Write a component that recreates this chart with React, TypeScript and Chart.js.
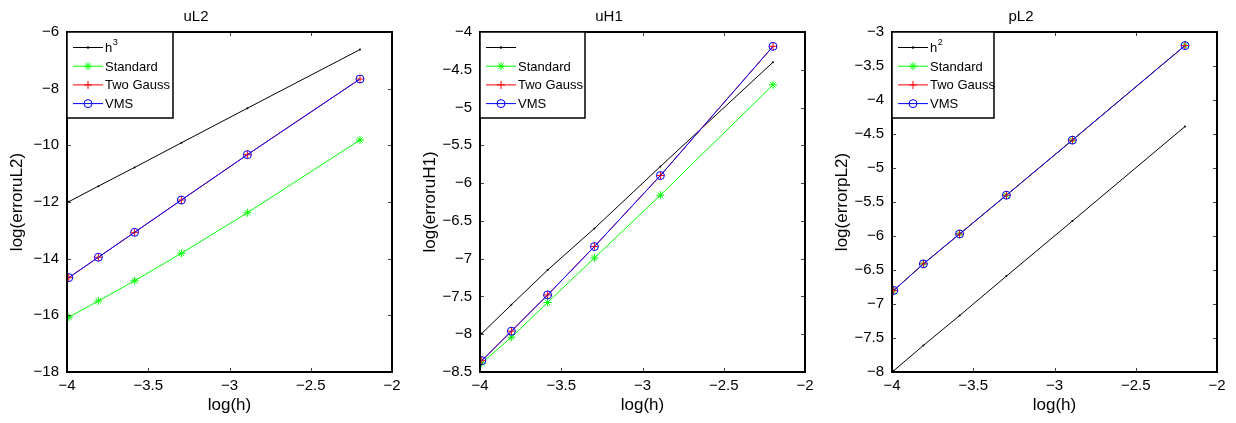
import React, { useEffect, useRef } from "react";
import { Chart, registerables } from "chart.js";
Chart.register(...registerables);

// ---- data ----
const logH = [-3.989, -3.807, -3.584, -3.296, -2.890, -2.197];

const uL2Ref = [-11.99, -11.44, -10.78, -9.91, -8.69, -6.62];
const uL2Standard = [-16.07, -15.49, -14.78, -13.81, -12.38, -9.81];
const uL2TwoGauss = [-14.67, -13.95, -13.07, -11.93, -10.33, -7.66];
const uL2VMS = [-14.67, -13.95, -13.07, -11.93, -10.33, -7.66];

const uH1Ref = [-7.99, -7.61, -7.15, -6.60, -5.78, -4.40];
const uH1Standard = [-8.38, -8.04, -7.58, -6.99, -6.16, -4.70];
const uH1TwoGauss = [-8.35, -7.96, -7.48, -6.84, -5.90, -4.19];
const uH1VMS = [-8.35, -7.96, -7.48, -6.84, -5.90, -4.19];

const pL2Ref = [-7.98, -7.61, -7.17, -6.59, -5.78, -4.39];
const pL2Standard = [-6.80, -6.41, -5.97, -5.40, -4.59, -3.20];
const pL2TwoGauss = [-6.80, -6.41, -5.97, -5.40, -4.59, -3.20];
const pL2VMS = [-6.80, -6.41, -5.97, -5.40, -4.59, -3.20];

const seriesLabels = ["Standard", "Two Gauss", "VMS"];
const xTicks = { min: -4, max: -2, step: 0.5 };

const FONT = "'Liberation Sans', Arial, Helvetica, sans-serif";

type PanelDef = {
  title: string;
  yTitle: string;
  refLabel: string;
  refSup: string;
  ref: number[];
  standard: number[];
  twoGauss: number[];
  vms: number[];
  yMin: number;
  yMax: number;
  yStep: number;
  left: number;
  legendW: number;
};

const panels: PanelDef[] = [
  { title: "uL2", yTitle: "log(erroruL2)", refLabel: "h", refSup: "3", ref: uL2Ref, standard: uL2Standard, twoGauss: uL2TwoGauss, vms: uL2VMS, yMin: -18, yMax: -6, yStep: 2, left: 0, legendW: 106 },
  { title: "uH1", yTitle: "log(erroruH1)", refLabel: "", refSup: "", ref: uH1Ref, standard: uH1Standard, twoGauss: uH1TwoGauss, vms: uH1VMS, yMin: -8.5, yMax: -4, yStep: 0.5, left: 413, legendW: 105 },
  { title: "pL2", yTitle: "log(errorpL2)", refLabel: "h", refSup: "2", ref: pL2Ref, standard: pL2Standard, twoGauss: pL2TwoGauss, vms: pL2VMS, yMin: -8, yMax: -3, yStep: 0.5, left: 825, legendW: 102 },
];

const fmt = (v: number) => String(v).replace("-", "\u2212");

function drawMarker(ctx: CanvasRenderingContext2D, style: string, x: number, y: number, color: string) {
  ctx.save();
  ctx.strokeStyle = color;
  ctx.fillStyle = color;
  ctx.lineWidth = 1;
  const r = 4;
  ctx.beginPath();
  if (style === "dot") {
    ctx.arc(x, y, 1.2, 0, Math.PI * 2);
    ctx.fill();
  } else if (style === "star") {
    for (let k = 0; k < 4; k++) {
      const a = (k * Math.PI) / 4;
      ctx.moveTo(x - r * Math.cos(a), y - r * Math.sin(a));
      ctx.lineTo(x + r * Math.cos(a), y + r * Math.sin(a));
    }
    ctx.stroke();
  } else if (style === "cross") {
    ctx.moveTo(x - r, y);
    ctx.lineTo(x + r, y);
    ctx.moveTo(x, y - r);
    ctx.lineTo(x, y + r);
    ctx.stroke();
  } else {
    ctx.arc(x, y, r, 0, Math.PI * 2);
    ctx.stroke();
  }
  ctx.restore();
}

const boxPlugin = {
  id: "matlabBox",
  afterDraw(chart: any, _args: any, opts: any) {
    const { ctx, chartArea: a, scales } = chart;
    ctx.save();
    ctx.strokeStyle = "#000";
    ctx.lineWidth = 1;
    const L = 4;
    const l = Math.round(a.left);
    const r = Math.round(a.right);
    const t = Math.round(a.top);
    const b = Math.round(a.bottom);
    ctx.strokeStyle = "#444";
    ctx.beginPath();
    scales.x.ticks.forEach((tk: any) => {
      const px = Math.round(scales.x.getPixelForValue(tk.value)) + 0.5;
      ctx.moveTo(px, b);
      ctx.lineTo(px, b - L);
      ctx.moveTo(px, t);
      ctx.lineTo(px, t + L);
    });
    scales.y.ticks.forEach((tk: any) => {
      const py = Math.round(scales.y.getPixelForValue(tk.value)) + 0.5;
      ctx.moveTo(l, py);
      ctx.lineTo(l + L, py);
      ctx.moveTo(r, py);
      ctx.lineTo(r - L, py);
    });
    ctx.stroke();
    ctx.strokeStyle = "#000";
    ctx.lineWidth = 2;
    ctx.strokeRect(l, t, r - l, b - t);

    // legend box
    const p: PanelDef = opts.panel;
    const lw = p.legendW;
    const lh = 86;
    ctx.fillStyle = "#fff";
    ctx.fillRect(l, t, lw, lh);
    ctx.lineWidth = 1.5;
    ctx.strokeRect(l, t, lw, lh);
    const items = [
      { label: p.refLabel, sup: p.refSup, color: "#000000", style: "dot" },
      { label: seriesLabels[0], sup: "", color: "#00ff00", style: "star" },
      { label: seriesLabels[1], sup: "", color: "#ff0000", style: "cross" },
      { label: seriesLabels[2], sup: "", color: "#0000ff", style: "circle" },
    ];
    items.forEach((it, i) => {
      const y = t + 15.5 + i * 18.7;
      ctx.strokeStyle = it.color;
      ctx.lineWidth = 1;
      ctx.beginPath();
      ctx.moveTo(l + 6, y);
      ctx.lineTo(l + 36, y);
      ctx.stroke();
      drawMarker(ctx, it.style, l + 21, y, it.color);
      ctx.fillStyle = "#000";
      ctx.font = `13px ${FONT}`;
      ctx.textBaseline = "middle";
      ctx.textAlign = "left";
      const tx = l + 38;
      ctx.fillText(it.label, tx, y + 1);
      if (it.sup) {
        const w = ctx.measureText(it.label).width;
        ctx.font = `9px ${FONT}`;
        ctx.fillText(it.sup, tx + w + 0.5, y - 5);
      }
    });
    ctx.restore();
  },
};

function Panel({ p }: { p: PanelDef }) {
  const ref = useRef<HTMLCanvasElement | null>(null);
  useEffect(() => {
    if (!ref.current) return;
    const mk = (ys: number[]) => logH.map((x, i) => ({ x, y: ys[i] }));
    const chart = new Chart(ref.current, {
      type: "line",
      data: {
        datasets: [
          { label: "VMS", data: mk(p.vms), borderColor: "#0000ff", backgroundColor: "rgba(0,0,0,0)", borderWidth: 1, pointStyle: "circle", pointRadius: 4, pointBorderWidth: 1, pointBorderColor: "#0000ff", pointBackgroundColor: "rgba(0,0,0,0)", order: 0 },
          { label: "Two Gauss", data: mk(p.twoGauss), borderColor: "#ff0000", backgroundColor: "#ff0000", borderWidth: 1, pointStyle: "cross", pointRadius: 4, pointBorderWidth: 1, pointBorderColor: "#ff0000", order: 1 },
          { label: "Standard", data: mk(p.standard), borderColor: "#00ff00", backgroundColor: "#00ff00", borderWidth: 1, pointStyle: "star", pointRadius: 4, pointBorderWidth: 1, pointBorderColor: "#00ff00", order: 2 },
          { label: "ref", data: mk(p.ref), borderColor: "#000000", backgroundColor: "#000000", borderWidth: 1, pointStyle: "circle", pointRadius: 1, pointBorderWidth: 0, pointBackgroundColor: "#000000", order: 3 },
        ],
      },
      options: {
        animation: false,
        responsive: false,
        devicePixelRatio: 1,
        layout: { padding: { top: 0, right: 20, bottom: 0, left: 0 } },
        plugins: {
          legend: { display: false },
          tooltip: { enabled: false },
          title: { display: true, text: p.title, color: "#000", font: { family: FONT, size: 15, weight: "normal" }, padding: { top: 8, bottom: 6 } },
          matlabBox: { panel: p },
        } as any,
        scales: {
          x: {
            type: "linear",
            min: xTicks.min,
            max: xTicks.max,
            grid: { display: false, drawTicks: false },
            border: { display: false },
            ticks: { stepSize: xTicks.step, color: "#000", padding: 5, font: { family: FONT, size: 15 }, callback: (v: any) => fmt(Number(v)) },
            title: { display: true, text: "log(h)", color: "#000", font: { family: FONT, size: 17 }, padding: { top: 0, bottom: 7 } },
            afterFit: (s: any) => {
              s.height = 51;
              s.paddingLeft = 0; s.paddingRight = 0; s.paddingTop = 0; s.paddingBottom = 0;
            },
          },
          y: {
            type: "linear",
            min: p.yMin,
            max: p.yMax,
            grid: { display: false, drawTicks: false },
            border: { display: false },
            ticks: { stepSize: p.yStep, color: "#000", padding: 8, font: { family: FONT, size: 15 }, callback: (v: any) => fmt(Number(v)) },
            title: { display: true, text: p.yTitle, color: "#000", font: { family: FONT, size: 17 }, padding: { top: 7, bottom: 0 } },
            afterFit: (s: any) => {
              s.width = 67;
              s.paddingLeft = 0; s.paddingRight = 0; s.paddingTop = 0; s.paddingBottom = 0;
            },
          },
        },
      } as any,
      plugins: [boxPlugin],
    });
    return () => chart.destroy();
  }, [p]);
  return (
    <canvas
      ref={ref}
      width={412}
      height={423}
      style={{ position: "absolute", left: p.left, top: 0, width: 412, height: 423 }}
    />
  );
}

export default function App() {
  return (
    <div style={{ position: "absolute", left: 0, top: 0, width: 1236, height: 423, background: "#fff", overflow: "hidden" }}>
      {panels.map((p) => (
        <Panel key={p.title} p={p} />
      ))}
    </div>
  );
}
